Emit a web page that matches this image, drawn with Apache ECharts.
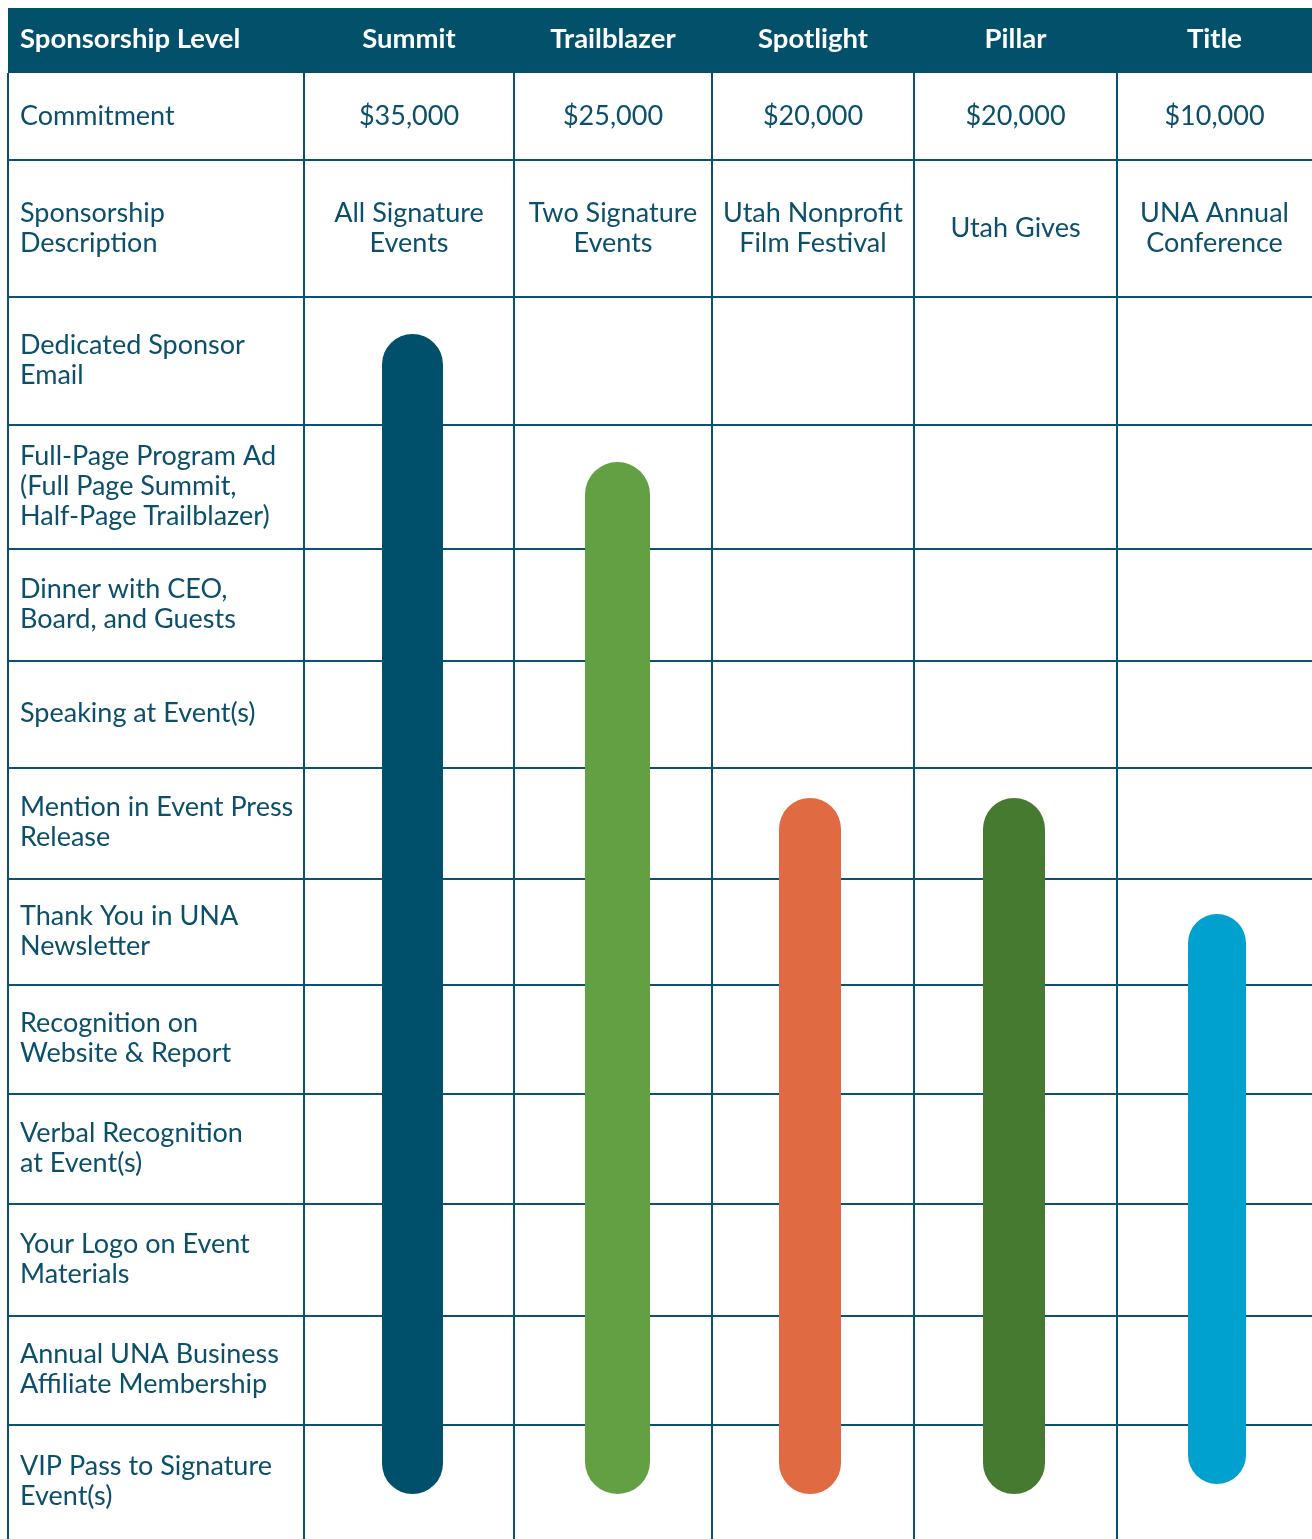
<!DOCTYPE html>
<html>
<head>
<meta charset="utf-8">
<script src="https://cdn.jsdelivr.net/npm/echarts@6/dist/echarts.min.js"></script>
<style>
html,body{margin:0;padding:0;background:#fff;}
#chart{width:1312px;height:1539px;}
</style>
</head>
<body>
<div id="chart"></div>
<script>
// ---- data ----
const headerLabel = 'Sponsorship Level';
const tiers = ['Summit', 'Trailblazer', 'Spotlight', 'Pillar', 'Title'];
const commitmentLabel = 'Commitment';
const commitments = ['$35,000', '$25,000', '$20,000', '$20,000', '$10,000'];
const descriptionLabel = 'Sponsorship\nDescription';
const descriptions = ['All Signature\nEvents', 'Two Signature\nEvents', 'Utah Nonprofit\nFilm Festival', 'Utah Gives', 'UNA Annual\nConference'];
const benefits = [
  'Dedicated Sponsor\nEmail',
  'Full-Page Program Ad\n(Full Page Summit,\nHalf-Page Trailblazer)',
  'Dinner with CEO,\nBoard, and Guests',
  'Speaking at Event(s)',
  'Mention in Event Press\nRelease',
  'Thank You in UNA\nNewsletter',
  'Recognition on\nWebsite & Report',
  'Verbal Recognition\nat Event(s)',
  'Your Logo on Event\nMaterials',
  'Annual UNA Business\nAffiliate Membership',
  'VIP Pass to Signature\nEvent(s)'
];
// number of benefits (counted from the bottom row up) included in each tier
const benefitCount = [11, 10, 7, 7, 6];

// ---- layout & style ----
const W = 1312, H = 1539;
const rowEdges = [8, 73, 160, 297, 425, 549, 661, 768, 879, 985, 1094, 1204, 1316, 1425, 1539];
const colEdges = [8, 304, 514, 712, 914, 1117, 1312];
const tierColors = ['#00506b', '#62a043', '#e06a42', '#457a30', '#00a0cf'];
const barWidths = [61, 65, 62, 62, 58];
const barDx = [3.5, 4.5, -3, -1.5, 2.5];
const barTopInset = [37, 37, 30, 30, 35];
const barBottomInset = [45, 45, 45, 45, 55];
const ink = '#0b4f6b';
const headBg = '#03506b';
const lineColor = '#0d5170';
const FONT = 'Lato, "Noto Sans", sans-serif';
const FS = 27;
const FS_HEAD = 27.5;

const graphics = [];
// header background
graphics.push({type: 'rect', z: 0, shape: {x: colEdges[0], y: rowEdges[0], width: W - colEdges[0], height: rowEdges[1] - rowEdges[0]}, style: {fill: headBg}});
// horizontal lines
for (let r = 2; r < rowEdges.length - 1; r++) {
  graphics.push({type: 'line', z: 1, shape: {x1: colEdges[0], y1: rowEdges[r], x2: W, y2: rowEdges[r]}, style: {stroke: lineColor, lineWidth: 2}});
}
// vertical lines
for (let c = 0; c < colEdges.length - 1; c++) {
  graphics.push({type: 'line', z: 1, shape: {x1: colEdges[c], y1: rowEdges[1], x2: colEdges[c], y2: H}, style: {stroke: lineColor, lineWidth: 2}});
}
function txt(s, x, y, align, color, weight, size) {
  graphics.push({type: 'text', z: 2, x: x, y: y, style: {text: s, fill: color, font: (weight || 'normal') + ' ' + (size || FS) + 'px ' + FONT, align: align, verticalAlign: 'middle', lineHeight: 30}});
}
const labelX = 20;
const rowMid = r => (rowEdges[r] + rowEdges[r + 1]) / 2;
const colMid = c => (colEdges[c] + colEdges[c + 1]) / 2;
// header row
txt(headerLabel, labelX, rowMid(0) - 1, 'left', '#ffffff', 'bold', FS_HEAD);
tiers.forEach((t, i) => txt(t, colMid(i + 1), rowMid(0) - 1, 'center', '#ffffff', 'bold', FS_HEAD));
// commitment row
txt(commitmentLabel, labelX, rowMid(1), 'left', ink);
commitments.forEach((t, i) => txt(t, colMid(i + 1), rowMid(1), 'center', ink));
// description row
txt(descriptionLabel, labelX, rowMid(2), 'left', ink);
descriptions.forEach((t, i) => txt(t, colMid(i + 1), rowMid(2), 'center', ink));
// benefit rows
benefits.forEach((b, k) => txt(b, labelX, rowMid(3 + k) - 1, 'left', ink));

const chart = echarts.init(document.getElementById('chart'));
chart.setOption({
  animation: false,
  backgroundColor: '#ffffff',
  grid: {left: 0, right: 0, top: 0, bottom: 0},
  xAxis: {type: 'value', min: 0, max: W, show: false},
  yAxis: {type: 'value', min: 0, max: H, inverse: true, show: false},
  graphic: {elements: graphics},
  series: [{
    type: 'custom',
    z: 10,
    data: tiers.map((t, i) => [i, benefitCount[i]]),
    renderItem: function (params, api) {
      const i = api.value(0);
      const n = api.value(1);
      const firstRow = 3 + (benefits.length - n);
      const xc = colMid(i + 1) + barDx[i];
      const top = api.coord([xc, rowEdges[firstRow] + barTopInset[i]]);
      const bottom = api.coord([xc, rowEdges[rowEdges.length - 1] - barBottomInset[i]]);
      const w = barWidths[i];
      return {
        type: 'rect',
        shape: {x: top[0] - w / 2, y: top[1], width: w, height: bottom[1] - top[1], r: w / 2},
        style: {fill: tierColors[i]}
      };
    }
  }]
});
</script>
</body>
</html>
